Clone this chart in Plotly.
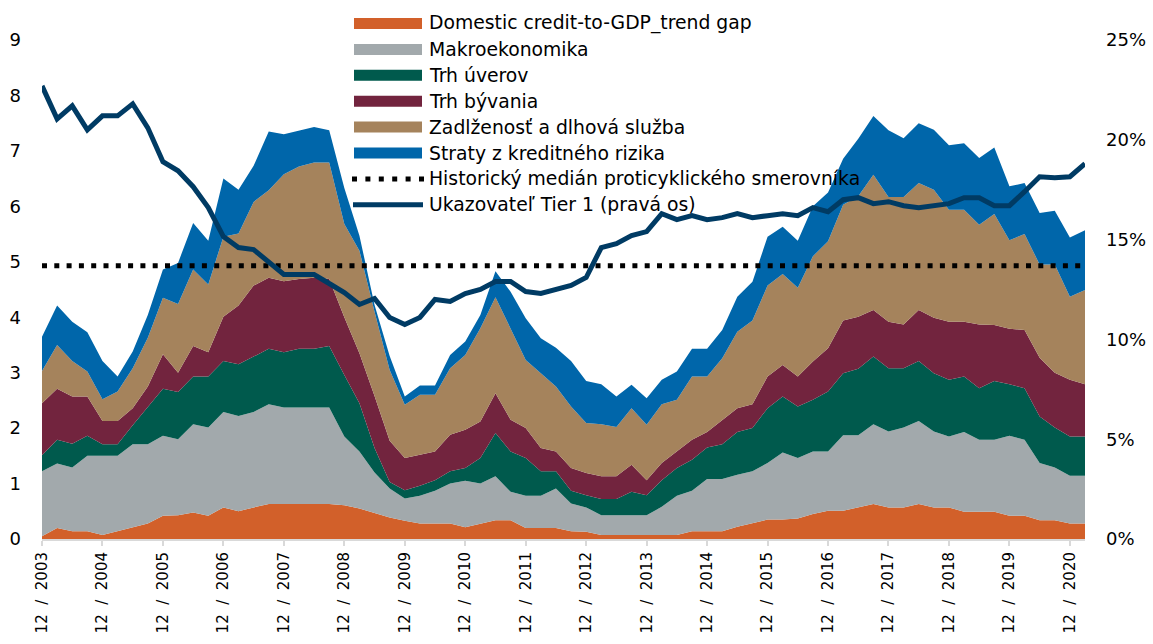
import plotly.graph_objects as go

# ---------------- data ----------------
categories = []
for k in range(70):
    month = [12, 3, 6, 9][k % 4]
    year = 2003 + (k + 3) // 4
    categories.append(f"{month} / {year}")

tick_cats = [c for c in categories if c.startswith("12 /")]
tick_text = [c.replace(" / ", "\u00a0\u00a0/\u00a0\u00a0") for c in tick_cats]

credit_gap = [0.05, 0.20, 0.14, 0.14, 0.07, 0.14, 0.21, 0.28, 0.42, 0.43,
              0.48, 0.42, 0.57, 0.50, 0.57, 0.63, 0.63, 0.63, 0.63, 0.63,
              0.61, 0.55, 0.47, 0.39, 0.33, 0.28, 0.28, 0.28, 0.21, 0.28,
              0.34, 0.34, 0.20, 0.20, 0.20, 0.14, 0.13, 0.07, 0.07, 0.07,
              0.07, 0.07, 0.07, 0.14, 0.14, 0.14, 0.22, 0.28, 0.35, 0.35,
              0.37, 0.45, 0.51, 0.51, 0.57, 0.63, 0.57, 0.57, 0.63, 0.57,
              0.57, 0.49, 0.49, 0.49, 0.42, 0.42, 0.34, 0.34, 0.28, 0.28]
makro = [1.17, 1.16, 1.15, 1.36, 1.43, 1.36, 1.50, 1.43, 1.44, 1.37,
         1.59, 1.59, 1.72, 1.72, 1.72, 1.80, 1.74, 1.74, 1.74, 1.74,
         1.24, 1.03, 0.73, 0.52, 0.40, 0.50, 0.59, 0.72, 0.84, 0.72,
         0.79, 0.51, 0.58, 0.58, 0.71, 0.50, 0.44, 0.36, 0.36, 0.36,
         0.36, 0.51, 0.71, 0.73, 0.94, 0.94, 0.94, 0.94, 1.02, 1.21,
         1.09, 1.13, 1.07, 1.36, 1.30, 1.44, 1.37, 1.44, 1.50, 1.37,
         1.28, 1.44, 1.30, 1.30, 1.44, 1.37, 1.03, 0.95, 0.86, 0.86]
trh_uverov = [0.29, 0.43, 0.43, 0.36, 0.21, 0.21, 0.34, 0.68, 0.85, 0.85,
              0.86, 0.92, 0.92, 0.93, 1.00, 1.00, 1.00, 1.06, 1.06, 1.11,
              1.11, 0.87, 0.44, 0.12, 0.15, 0.18, 0.19, 0.22, 0.23, 0.46,
              0.78, 0.73, 0.68, 0.44, 0.31, 0.23, 0.22, 0.29, 0.29, 0.42,
              0.36, 0.48, 0.50, 0.56, 0.57, 0.63, 0.77, 0.78, 0.99, 1.01,
              0.93, 0.93, 1.08, 1.12, 1.20, 1.22, 1.14, 1.07, 1.08, 1.05,
              1.02, 1.00, 0.93, 1.06, 0.93, 0.93, 0.84, 0.72, 0.71, 0.71]
trh_byvania = [0.94, 0.92, 0.85, 0.71, 0.42, 0.42, 0.31, 0.36, 0.62, 0.35,
               0.55, 0.44, 0.80, 1.06, 1.28, 1.28, 1.28, 1.26, 1.28, 1.21,
               1.04, 0.90, 0.94, 0.74, 0.58, 0.56, 0.52, 0.66, 0.69, 0.66,
               0.72, 0.57, 0.54, 0.42, 0.36, 0.41, 0.40, 0.41, 0.41, 0.49,
               0.27, 0.31, 0.30, 0.36, 0.28, 0.44, 0.43, 0.43, 0.57, 0.57,
               0.54, 0.69, 0.78, 0.95, 0.94, 0.84, 0.84, 0.79, 0.92, 1.00,
               1.05, 0.99, 1.15, 1.01, 1.00, 1.05, 1.06, 0.99, 1.02, 0.94]
zadlzenost = [0.58, 0.79, 0.64, 0.45, 0.39, 0.53, 0.72, 0.88, 1.02, 1.24,
              1.38, 1.22, 1.44, 1.30, 1.51, 1.58, 1.93, 2.03, 2.08, 2.10,
              1.68, 1.85, 1.52, 1.28, 0.96, 1.08, 1.02, 1.20, 1.35, 1.68,
              1.73, 1.65, 1.23, 1.35, 1.17, 1.11, 0.90, 0.94, 0.89, 1.02,
              1.00, 1.06, 0.93, 1.14, 1.00, 1.11, 1.38, 1.51, 1.64, 1.64,
              1.60, 1.90, 1.93, 2.09, 2.17, 2.44, 2.25, 2.30, 2.29, 2.31,
              2.02, 2.02, 1.80, 2.00, 1.60, 1.73, 1.68, 1.95, 1.50, 1.70]
straty = [0.62, 0.71, 0.71, 0.71, 0.69, 0.27, 0.30, 0.41, 0.51, 0.74,
          0.84, 0.79, 1.05, 0.79, 0.65, 1.06, 0.72, 0.65, 0.64, 0.58,
          0.65, 0.27, 0.12, 0.25, 0.15, 0.17, 0.17, 0.24, 0.24, 0.24,
          0.47, 0.66, 0.75, 0.63, 0.70, 0.82, 0.76, 0.72, 0.55, 0.42,
          0.48, 0.44, 0.51, 0.50, 0.50, 0.51, 0.63, 0.70, 0.88, 0.85,
          0.85, 0.90, 0.88, 0.83, 1.04, 1.06, 1.20, 1.06, 1.08, 1.08,
          1.16, 1.20, 1.20, 1.20, 0.97, 0.92, 0.93, 0.97, 1.07, 1.08]
tier1 = [22.7, 21.05, 21.7, 20.5, 21.2, 21.2, 21.8, 20.6, 18.9, 18.45,
         17.65, 16.6, 15.15, 14.6, 14.5, 13.85, 13.25, 13.25, 13.25, 12.8,
         12.35, 11.75, 12.05, 11.1, 10.75, 11.1, 12.0, 11.9, 12.3, 12.5,
         12.9, 12.9, 12.4, 12.3, 12.5, 12.7, 13.1, 14.6, 14.8, 15.2,
         15.4, 16.3, 16.0, 16.2, 16.0, 16.1, 16.3, 16.1, 16.2, 16.3,
         16.2, 16.6, 16.4, 17.0, 17.1, 16.8, 16.9, 16.7, 16.6, 16.7,
         16.8, 17.1, 17.1, 16.7, 16.7, 17.4, 18.15, 18.1, 18.15, 18.8]
median_ccyb = 4.93

series_names = ["Domestic credit-to-GDP_trend gap", "Makroekonomika", "Trh úverov",
                "Trh bývania", "Zadlženosť a dlhová služba", "Straty z kreditného rizika"]
series_values = [credit_gap, makro, trh_uverov, trh_byvania, zadlzenost, straty]
series_colors = ["#D2602A", "#A2A9AC", "#005A4D", "#72243E", "#A5835C", "#0066AA"]
median_name = "Historický medián proticyklického smerovníka"
tier_name = "Ukazovateľ Tier 1 (pravá os)"
tier_color = "#003B64"

FONT = "DejaVu Sans, Verdana, sans-serif"

fig = go.Figure()
for name, vals, col in zip(series_names, series_values, series_colors):
    fig.add_trace(go.Scatter(
        x=categories, y=vals, name=name, mode="lines", stackgroup="one",
        line=dict(width=0, color=col), fillcolor=col, showlegend=False))

fig.add_trace(go.Scatter(
    x=categories, y=[median_ccyb] * len(categories), name=median_name, mode="lines",
    line=dict(color="black", width=5, dash="5px,7.3px"), showlegend=False))

fig.add_trace(go.Scatter(
    x=categories, y=tier1, name=tier_name, mode="lines", yaxis="y2",
    line=dict(color=tier_color, width=5), showlegend=False))

# ---------------- layout ----------------
W, H = 1153, 644
L, R, T, B = 42, 68, 40, 105
pw, ph = W - L - R, H - T - B


def px_x(x):
    return (x - L) / pw


def px_y(y):
    return (H - B - y) / ph


LEG_FONT = dict(family=FONT, size=18.8, color="black")
shapes, annotations = [], []
row0, row_step = 23.5, 25.9
sw_x0, sw_x1, text_x = 354, 422, 427
for k, (name, col) in enumerate(zip(series_names, series_colors)):
    yc = row0 + row_step * k
    shapes.append(dict(type="rect", xref="paper", yref="paper",
                       x0=px_x(sw_x0), x1=px_x(sw_x1), y0=px_y(yc + 5.5), y1=px_y(yc - 5.5),
                       fillcolor=col, line=dict(width=0)))
    annotations.append(dict(xref="paper", yref="paper", x=px_x(text_x), y=px_y(yc),
                            xanchor="left", yanchor="middle", text=name, showarrow=False,
                            font=LEG_FONT))
yc = row0 + row_step * 6
shapes.append(dict(type="line", xref="paper", yref="paper",
                   x0=px_x(352), x1=px_x(424), y0=px_y(yc), y1=px_y(yc),
                   line=dict(color="black", width=5, dash="5px,8.4px")))
annotations.append(dict(xref="paper", yref="paper", x=px_x(text_x), y=px_y(yc),
                        xanchor="left", yanchor="middle", text=median_name, showarrow=False,
                        font=LEG_FONT))
yc = row0 + row_step * 7
shapes.append(dict(type="line", xref="paper", yref="paper",
                   x0=px_x(353), x1=px_x(423), y0=px_y(yc), y1=px_y(yc),
                   line=dict(color=tier_color, width=5)))
annotations.append(dict(xref="paper", yref="paper", x=px_x(text_x), y=px_y(yc),
                        xanchor="left", yanchor="middle", text=tier_name, showarrow=False,
                        font=LEG_FONT))

fig.update_layout(
    width=W, height=H,
    margin=dict(l=L, r=R, t=T, b=B, pad=0),
    paper_bgcolor="white", plot_bgcolor="white",
    font=dict(family=FONT, size=18, color="black"),
    showlegend=False,
    shapes=shapes, annotations=annotations,
    xaxis=dict(type="category", range=[0, len(categories) - 1],
               tickmode="array", tickvals=tick_cats, ticktext=tick_text,
               tickangle=-90, tickfont=dict(size=15),
               ticks="outside", ticklen=5, tickwidth=1.5, tickcolor="#D9D9D9",
               showline=True, linecolor="#D9D9D9", linewidth=2,
               showgrid=False, zeroline=False, automargin=False),
    yaxis=dict(range=[0, 9], dtick=1, showgrid=False, zeroline=False,
               showline=False, ticks="", ticklabelstandoff=20,
               tickfont=dict(size=18), automargin=False),
    yaxis2=dict(range=[0, 25], dtick=5, ticksuffix="%", overlaying="y", side="right",
                showgrid=False, zeroline=False, showline=False, ticks="",
                ticklabelstandoff=20, tickfont=dict(size=18), automargin=False),
)

fig.write_html("out.html",
               config={"displayModeBar": False},
               post_script="document.body.style.margin='0px';document.body.style.overflow='hidden';")
